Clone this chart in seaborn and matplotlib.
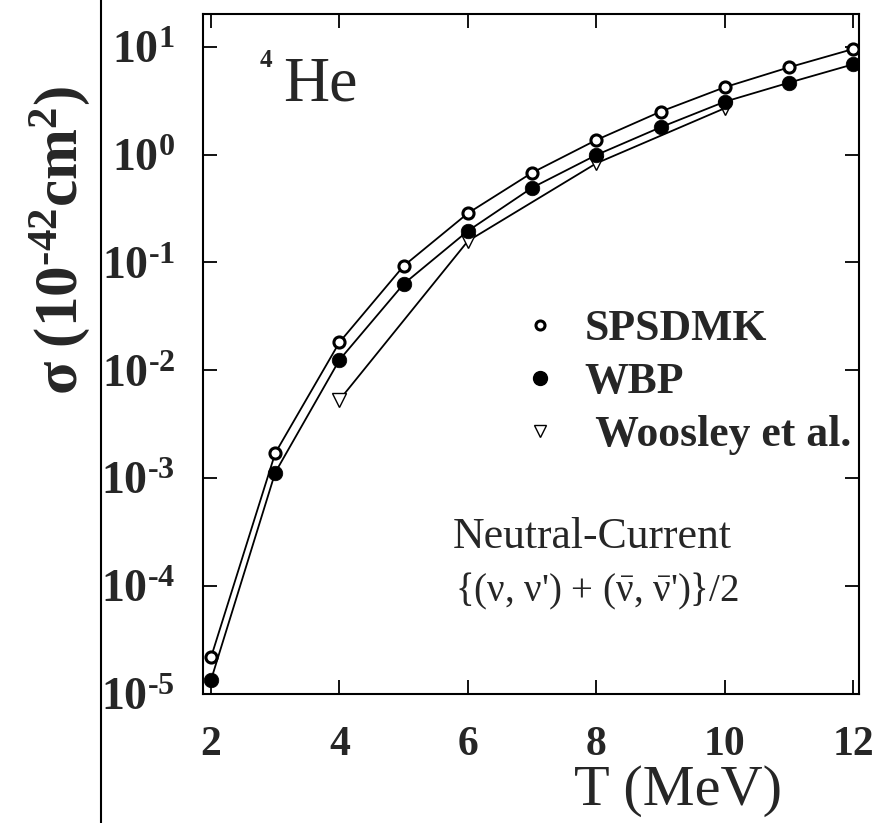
import numpy as np
import pandas as pd
import matplotlib
matplotlib.use("Agg")
import matplotlib.pyplot as plt
import seaborn as sns
from matplotlib.lines import Line2D
from matplotlib.ticker import FixedLocator, NullLocator, FuncFormatter

# ---------------- data ----------------
T_values = [2, 3, 4, 5, 6, 7, 8, 9, 10, 11, 12]
sigma_spsdmk = [2.19e-5, 1.71e-3, 0.0182, 0.0929, 0.286, 0.679, 1.365, 2.50, 4.21, 6.44, 9.52]
sigma_wbp = [1.35e-5, 1.13e-3, 0.0125, 0.0632, 0.196, 0.493, 0.991, 1.79, 3.09, 4.64, 6.87]
T_woosley = [4, 6, 8, 10]
sigma_woosley = [0.00532, 0.158, 0.830, 2.69]
series_labels = ["SPSDMK", "WBP", " Woosley et al."]
x_ticks = [2, 4, 6, 8, 10, 12]
y_exponents = [-5, -4, -3, -2, -1, 0, 1]

HY = "\u2010"  # short hyphen as used in the exponents

# ---------------- style ----------------
sns.set_style("ticks")
plt.rcParams["font.family"] = ["Liberation Serif", "DejaVu Serif"]
plt.rcParams["mathtext.fontset"] = "custom"
plt.rcParams["mathtext.rm"] = "Liberation Serif"
plt.rcParams["mathtext.it"] = "Liberation Serif:italic"
plt.rcParams["mathtext.bf"] = "Liberation Serif:bold"
plt.rcParams["mathtext.default"] = "rm"

W, H = 882, 823
fig = plt.figure(figsize=(W / 100, H / 100), dpi=100)
ax = fig.add_axes([203 / W, 1 - 694 / H, 656 / W, 680 / H])
ax.set_yscale("log")

df_s = pd.DataFrame({"T": T_values, "sigma": sigma_spsdmk})
df_w = pd.DataFrame({"T": T_values, "sigma": sigma_wbp})
df_o = pd.DataFrame({"T": T_woosley, "sigma": sigma_woosley})

sns.lineplot(data=df_o, x="T", y="sigma", ax=ax, color="black", lw=1.3,
             marker="v", ms=10, mfc="white", mec="black", mew=1.0, zorder=3)
sns.lineplot(data=df_w, x="T", y="sigma", ax=ax, color="black", lw=1.3,
             marker="o", ms=10.5, mfc="black", mec="black", mew=0.5, zorder=4)
sns.lineplot(data=df_s, x="T", y="sigma", ax=ax, color="black", lw=1.3,
             marker="o", ms=8, mfc="white", mec="black", mew=2.2, zorder=5)

ax.set_xlim(1.875, 12.09)
ax.set_ylim(1e-5, 10 ** 1.303)

def ylab(v, p):
    e = int(round(np.log10(v)))
    s = (HY + str(-e)) if e < 0 else str(e)
    return r"$\mathbf{10^{%s}}$" % s

ax.xaxis.set_major_locator(FixedLocator(x_ticks))
ax.xaxis.set_minor_locator(NullLocator())
ax.yaxis.set_major_locator(FixedLocator([10.0 ** e for e in y_exponents]))
ax.yaxis.set_minor_locator(NullLocator())
ax.yaxis.set_major_formatter(FuncFormatter(ylab))
ax.xaxis.set_major_formatter(FuncFormatter(lambda v, p: "%d" % v))

ax.tick_params(which="major", direction="in", length=10, width=1.3,
               top=True, right=True, color="black")
ax.tick_params(axis="y", labelsize=33, pad=20)
ax.tick_params(axis="x", labelsize=30, pad=23)
for lab in ax.get_xticklabels():
    lab.set_fontweight("bold")
for sp in ax.spines.values():
    sp.set_linewidth(1.5)
    sp.set_color("black")

ax.set_xlabel("T (MeV)", fontsize=42)
ax.xaxis.set_label_coords(0.724, -0.105)
ax.set_ylabel(r"$\mathbf{\sigma\ (10^{%s42}cm^{2})}$" % HY, fontsize=44)
ax.yaxis.set_label_coords(-0.169, 0.667)

# nucleus label
ax.text(0.087, 0.922, "4", fontsize=18, fontweight="bold", transform=ax.transAxes,
        va="baseline")
ax.text(0.122, 0.8735, "He", fontsize=46, transform=ax.transAxes, va="baseline")

# legend
handles = [
    Line2D([], [], ls="none", marker="o", ms=6.5, mfc="white", mec="black", mew=2.2),
    Line2D([], [], ls="none", marker="o", ms=10, mfc="black", mec="black"),
    Line2D([], [], ls="none", marker="v", ms=8.5, mfc="white", mec="black", mew=1),
]
ax.legend(handles, series_labels, loc="upper left", bbox_to_anchor=(0.482, 0.566),
          frameon=False, prop=dict(family="Liberation Serif", weight="bold", size=31.5),
          handlelength=0.95, handletextpad=0.55, labelspacing=0.30,
          borderpad=0, borderaxespad=0)

ax.text(0.381, 0.215, "Neutral-Current", fontsize=31.5, transform=ax.transAxes,
        va="baseline")
ax.text(0.384, 0.136,
        r"{($\nu$, $\nu$') + ($\bar{\nu}$, $\bar{\nu}$')}/2",
        fontsize=28, transform=ax.transAxes, va="baseline")

# page border line from the scan
fig.add_artist(Line2D([101 / W, 101 / W], [0, 1], transform=fig.transFigure,
                      color="black", lw=1.5))

fig.savefig("out.png", dpi=100, facecolor="white")
